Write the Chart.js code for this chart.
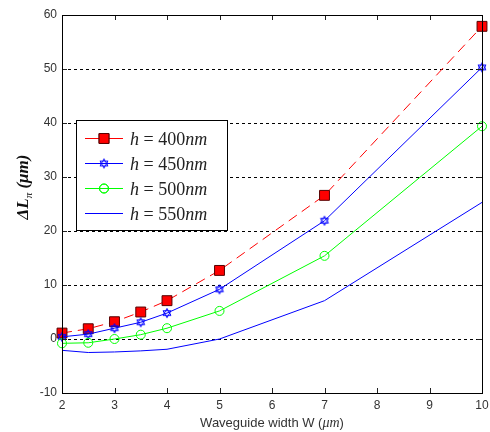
<!DOCTYPE html>
<html lang="en">
<head>
    <meta charset="UTF-8">
    <title>Waveguide width</title>
    <script src="https://cdn.jsdelivr.net/npm/chart.js"></script>
    <style>
        body {
            margin: 0;
            background-color: #ffffff;
        }

        .container {
            width: 490px;
            height: 432px;
        }
    </style>
</head>
<body>
    <div class="container">
        <canvas id="lengthChart" width="490" height="432"></canvas>
    </div>

    <script>
        // waveguide widths (um)
        const widths = [2, 2.5, 3, 3.5, 4, 5, 7, 10];
        // delta L for each thickness h (um)
        const h400 = [1.1, 1.9, 3.2, 5.0, 7.1, 12.7, 26.6, 57.9];
        const h450 = [0.4, 0.9, 2.0, 3.1, 4.8, 9.2, 21.9, 50.3];
        const h500 = [-0.8, -0.7, 0.0, 0.8, 2.0, 5.2, 15.4, 39.4];
        const h550 = [-2.1, -2.5, -2.4, -2.2, -1.9, 0.0, 7.1, 25.3];
        const legendNames = ['400', '450', '500', '550'];
        const xTicks = [2, 3, 4, 5, 6, 7, 8, 9, 10];
        const yTicks = [-10, 0, 10, 20, 30, 40, 50, 60];

        const toPoints = vals => widths.map((w, i) => ({ x: w, y: vals[i] }));

        // six-pointed star marker
        function makeHexagram(color) {
            const c = document.createElement('canvas');
            c.width = 12;
            c.height = 12;
            const g = c.getContext('2d');
            g.strokeStyle = color;
            g.lineWidth = 1;
            const r = 4.6;
            for (let t = 0; t < 2; t++) {
                g.beginPath();
                for (let k = 0; k < 3; k++) {
                    const a = -Math.PI / 2 + t * Math.PI + k * 2 * Math.PI / 3;
                    const px = 6 + r * Math.cos(a);
                    const py = 6 + r * Math.sin(a);
                    if (k === 0) g.moveTo(px, py); else g.lineTo(px, py);
                }
                g.closePath();
                g.stroke();
            }
            return c;
        }
        const star = makeHexagram('#0000ff');

        const styles = [
            { color: '#ff0000', dash: [10, 6], point: 'rect', radius: 7, fill: '#ff0000', pb: '#550000' },
            { color: '#0000ff', dash: [], point: star, radius: 5, fill: '#0000ff', pb: '#0000ff' },
            { color: '#00ff00', dash: [], point: 'circle', radius: 4.5, fill: 'rgba(0,0,0,0)', pb: '#00ff00' },
            { color: '#0000ff', dash: [], point: false, radius: 0, fill: '#0000ff', pb: '#0000ff' }
        ];
        const series = [h400, h450, h500, h550];

        const decor = {
            id: 'decor',
            afterDraw(chart) {
                const ctx = chart.ctx;
                const a = chart.chartArea;
                const xs = chart.scales.x;
                const ys = chart.scales.y;
                ctx.save();
                // inward ticks
                ctx.strokeStyle = '#222';
                ctx.lineWidth = 1;
                ctx.beginPath();
                xTicks.forEach(v => {
                    const px = Math.round(xs.getPixelForValue(v)) + 0.5;
                    ctx.moveTo(px, a.bottom); ctx.lineTo(px, a.bottom - 5);
                    ctx.moveTo(px, a.top); ctx.lineTo(px, a.top + 5);
                });
                yTicks.forEach(v => {
                    const py = Math.round(ys.getPixelForValue(v)) + 0.5;
                    ctx.moveTo(a.left, py); ctx.lineTo(a.left + 5, py);
                    ctx.moveTo(a.right, py); ctx.lineTo(a.right - 5, py);
                });
                ctx.stroke();
                // box
                ctx.strokeStyle = '#000';
                ctx.strokeRect(Math.round(a.left) + 0.5, Math.round(a.top) + 0.5,
                    Math.round(a.right - a.left), Math.round(a.bottom - a.top));

                // legend
                const lx = 76, ly = 120, lw = 151, lh = 110;
                ctx.fillStyle = '#fff';
                ctx.fillRect(lx, ly, lw, lh);
                ctx.strokeStyle = '#000';
                ctx.strokeRect(lx + 0.5, ly + 0.5, lw, lh);
                legendNames.forEach((name, i) => {
                    const s = styles[i];
                    const yy = ly + 18 + i * 25 + 0.5;
                    ctx.strokeStyle = s.color;
                    ctx.setLineDash([]);
                    ctx.beginPath();
                    ctx.moveTo(85, yy); ctx.lineTo(123, yy);
                    ctx.stroke();
                    if (s.point) {
                        ctx.fillStyle = s.fill;
                        ctx.strokeStyle = s.pb;
                        Chart.helpers.drawPoint(ctx, { pointStyle: s.point, radius: s.radius, borderWidth: 1, rotation: 0 }, 104, yy);
                        ctx.fill();
                        ctx.stroke();
                    }
                    let tx = 130;
                    const ty = yy + 6;
                    ctx.fillStyle = '#222';
                    ctx.font = 'italic 18px "Liberation Serif"';
                    ctx.fillText('h', tx, ty);
                    tx += ctx.measureText('h').width;
                    ctx.font = '18px "Liberation Serif"';
                    const mid = ' = ' + name;
                    ctx.fillText(mid, tx, ty);
                    tx += ctx.measureText(mid).width;
                    ctx.font = 'italic 18px "Liberation Serif"';
                    ctx.fillText('nm', tx, ty);
                });

                // x title
                ctx.fillStyle = '#333';
                const p1 = 'Waveguide width W (';
                ctx.font = '13px "Liberation Sans"';
                const w1 = ctx.measureText(p1).width;
                ctx.font = 'italic 14px "Liberation Serif"';
                const w2 = ctx.measureText('\u03bcm').width;
                ctx.font = '13px "Liberation Sans"';
                const w3 = ctx.measureText(')').width;
                let sx = (a.left + a.right) / 2 - (w1 + w2 + w3) / 2;
                ctx.fillText(p1, sx, 427);
                sx += w1;
                ctx.font = 'italic 14px "Liberation Serif"';
                ctx.fillText('\u03bcm', sx, 427);
                sx += w2;
                ctx.font = '13px "Liberation Sans"';
                ctx.fillText(')', sx, 427);

                // y title
                ctx.translate(28, 187);
                ctx.rotate(-Math.PI / 2);
                ctx.fillStyle = '#111';
                ctx.font = 'bold italic 17px "Liberation Serif"';
                const t1 = '\u0394L';
                const t3 = ' (\u03bcm)';
                const q1 = ctx.measureText(t1).width;
                const q3 = ctx.measureText(t3).width;
                ctx.font = 'italic 11px "Liberation Serif"';
                const q2 = ctx.measureText('\u03c0').width;
                let ox = -(q1 + q2 + q3) / 2;
                ctx.font = 'bold italic 17px "Liberation Serif"';
                ctx.fillText(t1, ox, 0);
                ox += q1;
                ctx.font = 'italic 11px "Liberation Serif"';
                ctx.fillText('\u03c0', ox, 4);
                ox += q2;
                ctx.font = 'bold italic 17px "Liberation Serif"';
                ctx.fillText(t3, ox, 0);
                ctx.restore();
            }
        };

        const ctx = document.getElementById('lengthChart').getContext('2d');
        new Chart(ctx, {
            type: 'line',
            data: {
                datasets: series.map((vals, i) => ({
                    label: 'h = ' + legendNames[i] + 'nm',
                    data: toPoints(vals),
                    borderColor: styles[i].color,
                    borderWidth: 1,
                    borderDash: styles[i].dash,
                    pointStyle: styles[i].point,
                    pointRadius: styles[i].radius,
                    pointBackgroundColor: styles[i].fill,
                    pointBorderColor: styles[i].pb,
                    pointBorderWidth: 1,
                    tension: 0,
                    fill: false,
                    clip: false
                })).reverse()
            },
            options: {
                responsive: false,
                animation: false,
                events: [],
                layout: { padding: { left: 0, top: 15, right: 5, bottom: 0 } },
                plugins: {
                    legend: { display: false },
                    tooltip: { enabled: false }
                },
                scales: {
                    x: {
                        type: 'linear',
                        min: 2,
                        max: 10,
                        afterBuildTicks: s => { s.ticks = xTicks.map(v => ({ value: v })); },
                        afterFit: s => { s.height = 39; s.paddingRight = 0; s.paddingLeft = 0; },
                        grid: { display: false, drawTicks: false },
                        border: { display: false },
                        ticks: {
                            color: '#333',
                            font: { family: 'Liberation Sans', size: 12 },
                            padding: 5,
                            maxRotation: 0
                        }
                    },
                    y: {
                        min: -10,
                        max: 60,
                        afterBuildTicks: s => { s.ticks = yTicks.map(v => ({ value: v })); },
                        afterFit: s => { s.width = 62; s.paddingTop = 0; s.paddingBottom = 0; },
                        grid: {
                            drawTicks: false,
                            color: c => (c.tick.value === -10 || c.tick.value === 60) ? 'rgba(0,0,0,0)' : '#000',
                            lineWidth: 1
                        },
                        border: { display: false, dash: [3, 3] },
                        ticks: {
                            color: '#333',
                            font: { family: 'Liberation Sans', size: 12 },
                            padding: 5
                        }
                    }
                }
            },
            plugins: [decor]
        });
    </script>
</body>
</html>
